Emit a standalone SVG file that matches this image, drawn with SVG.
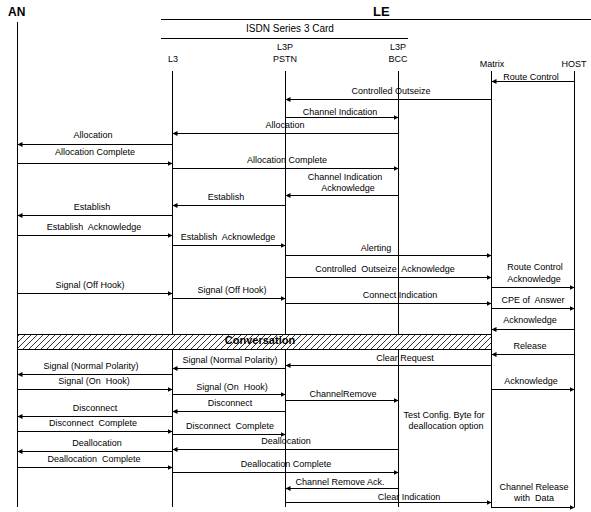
<svg xmlns="http://www.w3.org/2000/svg" width="591" height="512" viewBox="0 0 591 512">
<defs>
<marker id="ah" markerUnits="userSpaceOnUse" markerWidth="6" markerHeight="6" refX="5" refY="3" orient="auto">
<path d="M0,0.5 L5,3 L0,5.5 z" fill="#000"/>
</marker>
<pattern id="hatch" patternUnits="userSpaceOnUse" width="6" height="6">
<line x1="0" y1="6" x2="6" y2="0" stroke="#000" stroke-width="0.8"/>
<line x1="-1" y1="1" x2="1" y2="-1" stroke="#000" stroke-width="0.8"/>
<line x1="5" y1="7" x2="7" y2="5" stroke="#000" stroke-width="0.8"/>
</pattern>
<style>
text{font-family:"Liberation Sans",Arial,sans-serif;font-size:9px;fill:#000}
.c{text-anchor:middle}
.h{font-weight:bold;font-size:12px}
.t{font-size:10px}
.life{stroke:#000;stroke-width:1;fill:none}
.msg{stroke:#000;stroke-width:1;fill:none;marker-end:url(#ah)}
.rule{stroke:#000;stroke-width:1}
</style>
</defs>
<rect width="591" height="512" fill="#fff"/>

<g id="headers">
<text class="h" x="8" y="16">AN</text>
<text class="h" x="373" y="16" style="font-size:13px">LE</text>
<line class="rule" x1="161" y1="19.5" x2="591" y2="19.5"/>
<text class="t c" x="290" y="32">ISDN Series 3 Card</text>
<line class="rule" x1="161" y1="38.5" x2="408" y2="38.5"/>
</g>

<g id="AN"><line class="life" x1="17.5" y1="22" x2="17.5" y2="507"/></g>
<g id="L3"><text class="c" x="173" y="62">L3</text><line class="life" x1="172.5" y1="71" x2="172.5" y2="507"/></g>
<g id="L3P_PSTN"><text class="c" x="285" y="50">L3P</text><text class="c" x="285" y="62">PSTN</text><line class="life" x1="285.5" y1="71" x2="285.5" y2="507"/></g>
<g id="L3P_BCC"><text class="c" x="398" y="50">L3P</text><text class="c" x="398" y="62">BCC</text><line class="life" x1="398.5" y1="71" x2="398.5" y2="507"/></g>
<g id="Matrix"><text class="c" x="492" y="67">Matrix</text><line class="life" x1="491.5" y1="71" x2="491.5" y2="508"/></g>
<g id="HOST"><text class="c" x="574" y="67">HOST</text><line class="life" x1="574.5" y1="71" x2="574.5" y2="507"/></g>

<g id="conversation">
<rect x="17.5" y="334.5" width="474" height="15" fill="#fff" stroke="none"/>
<rect x="17.5" y="334.5" width="474" height="15" fill="url(#hatch)" stroke="#000" stroke-width="1"/>
<text class="c" x="260" y="344" style="font-weight:bold;font-size:11px">Conversation</text>
</g>

<g id="connectors">
<line class="msg" x1="574.5" y1="81.5" x2="491.5" y2="81.5"/>
<line class="msg" x1="491.5" y1="99.5" x2="285.5" y2="99.5"/>
<line class="msg" x1="285.5" y1="117.5" x2="398.5" y2="117.5"/>
<line class="msg" x1="398.5" y1="133.5" x2="172.5" y2="133.5"/>
<line class="msg" x1="172.5" y1="144.5" x2="17.5" y2="144.5"/>
<line class="msg" x1="17.5" y1="163.5" x2="172.5" y2="163.5"/>
<line class="msg" x1="172.5" y1="168.5" x2="398.5" y2="168.5"/>
<line class="msg" x1="398.5" y1="195.5" x2="285.5" y2="195.5"/>
<line class="msg" x1="285.5" y1="205.5" x2="172.5" y2="205.5"/>
<line class="msg" x1="172.5" y1="215.5" x2="17.5" y2="215.5"/>
<line class="msg" x1="17.5" y1="235.5" x2="172.5" y2="235.5"/>
<line class="msg" x1="172.5" y1="245.5" x2="285.5" y2="245.5"/>
<line class="msg" x1="285.5" y1="255.5" x2="491.5" y2="255.5"/>
<line class="msg" x1="285.5" y1="277.5" x2="491.5" y2="277.5"/>
<line class="msg" x1="491.5" y1="287.5" x2="574.5" y2="287.5"/>
<line class="msg" x1="17.5" y1="293.5" x2="172.5" y2="293.5"/>
<line class="msg" x1="172.5" y1="298.5" x2="285.5" y2="298.5"/>
<line class="msg" x1="285.5" y1="303.5" x2="491.5" y2="303.5"/>
<line class="msg" x1="491.5" y1="308.5" x2="574.5" y2="308.5"/>
<line class="msg" x1="574.5" y1="329.5" x2="491.5" y2="329.5"/>
<line class="msg" x1="574.5" y1="354.5" x2="491.5" y2="354.5"/>
<line class="msg" x1="491.5" y1="365.5" x2="285.5" y2="365.5"/>
<line class="msg" x1="285.5" y1="368.5" x2="172.5" y2="368.5"/>
<line class="msg" x1="172.5" y1="374.5" x2="17.5" y2="374.5"/>
<line class="msg" x1="491.5" y1="389.5" x2="574.5" y2="389.5"/>
<line class="msg" x1="17.5" y1="389.5" x2="172.5" y2="389.5"/>
<line class="msg" x1="172.5" y1="394.5" x2="285.5" y2="394.5"/>
<line class="msg" x1="285.5" y1="400.5" x2="398.5" y2="400.5"/>
<line class="msg" x1="285.5" y1="411.5" x2="172.5" y2="411.5"/>
<line class="msg" x1="172.5" y1="416.5" x2="17.5" y2="416.5"/>
<line class="msg" x1="17.5" y1="431.5" x2="172.5" y2="431.5"/>
<line class="msg" x1="172.5" y1="434.5" x2="285.5" y2="434.5"/>
<line class="msg" x1="398.5" y1="449.5" x2="172.5" y2="449.5"/>
<line class="msg" x1="172.5" y1="451.5" x2="17.5" y2="451.5"/>
<line class="msg" x1="17.5" y1="467.5" x2="172.5" y2="467.5"/>
<line class="msg" x1="172.5" y1="472.5" x2="398.5" y2="472.5"/>
<line class="msg" x1="398.5" y1="488.5" x2="285.5" y2="488.5"/>
<line class="msg" x1="285.5" y1="502.5" x2="491.5" y2="502.5"/>
<line class="msg" x1="491.5" y1="507.5" x2="574.5" y2="507.5"/>
</g>

<g id="labels">
<text class="c" x="531" y="80">Route Control</text>
<text class="c" x="391" y="94">Controlled Outseize</text>
<text class="c" x="340" y="115">Channel Indication</text>
<text class="c" x="285" y="128">Allocation</text>
<text class="c" x="93" y="138">Allocation</text>
<text class="c" x="95" y="155">Allocation Complete</text>
<text class="c" x="287" y="163">Allocation Complete</text>
<text class="c" x="345" y="180">Channel Indication</text>
<text class="c" x="348" y="191">Acknowledge</text>
<text class="c" x="226" y="200">Establish</text>
<text class="c" x="92" y="210">Establish</text>
<text class="c" x="94" y="230" xml:space="preserve">Establish  Acknowledge</text>
<text class="c" x="228" y="240" xml:space="preserve">Establish  Acknowledge</text>
<text class="c" x="376" y="251">Alerting</text>
<text class="c" x="385" y="272" xml:space="preserve">Controlled  Outseize  Acknowledge</text>
<text class="c" x="535" y="270">Route Control</text>
<text class="c" x="534" y="282">Acknowledge</text>
<text class="c" x="90" y="288">Signal (Off Hook)</text>
<text class="c" x="232" y="293">Signal (Off Hook)</text>
<text class="c" x="400" y="298">Connect Indication</text>
<text class="c" x="533" y="303" xml:space="preserve">CPE of  Answer</text>
<text class="c" x="530" y="323">Acknowledge</text>
<text class="c" x="530" y="349">Release</text>
<text class="c" x="405" y="361">Clear Request</text>
<text class="c" x="230" y="363">Signal (Normal Polarity)</text>
<text class="c" x="91" y="369">Signal (Normal Polarity)</text>
<text class="c" x="531" y="384">Acknowledge</text>
<text class="c" x="94" y="384" xml:space="preserve">Signal (On  Hook)</text>
<text class="c" x="232" y="390" xml:space="preserve">Signal (On  Hook)</text>
<text class="c" x="343" y="397">ChannelRemove</text>
<text class="c" x="230" y="406">Disconnect</text>
<text class="c" x="95" y="411">Disconnect</text>
<text class="c" x="444" y="418">Test Config. Byte for</text>
<text class="c" x="446" y="429">deallocation option</text>
<text class="c" x="93" y="426" xml:space="preserve">Disconnect  Complete</text>
<text class="c" x="230" y="429" xml:space="preserve">Disconnect  Complete</text>
<text class="c" x="286" y="444">Deallocation</text>
<text class="c" x="97" y="446">Deallocation</text>
<text class="c" x="94" y="462" xml:space="preserve">Deallocation  Complete</text>
<text class="c" x="286" y="467">Deallocation Complete</text>
<text class="c" x="340" y="485">Channel Remove Ack.</text>
<text class="c" x="409" y="500">Clear Indication</text>
<text class="c" x="534" y="490">Channel Release</text>
<text class="c" x="534" y="501" xml:space="preserve">with  Data</text>
</g>
</svg>
